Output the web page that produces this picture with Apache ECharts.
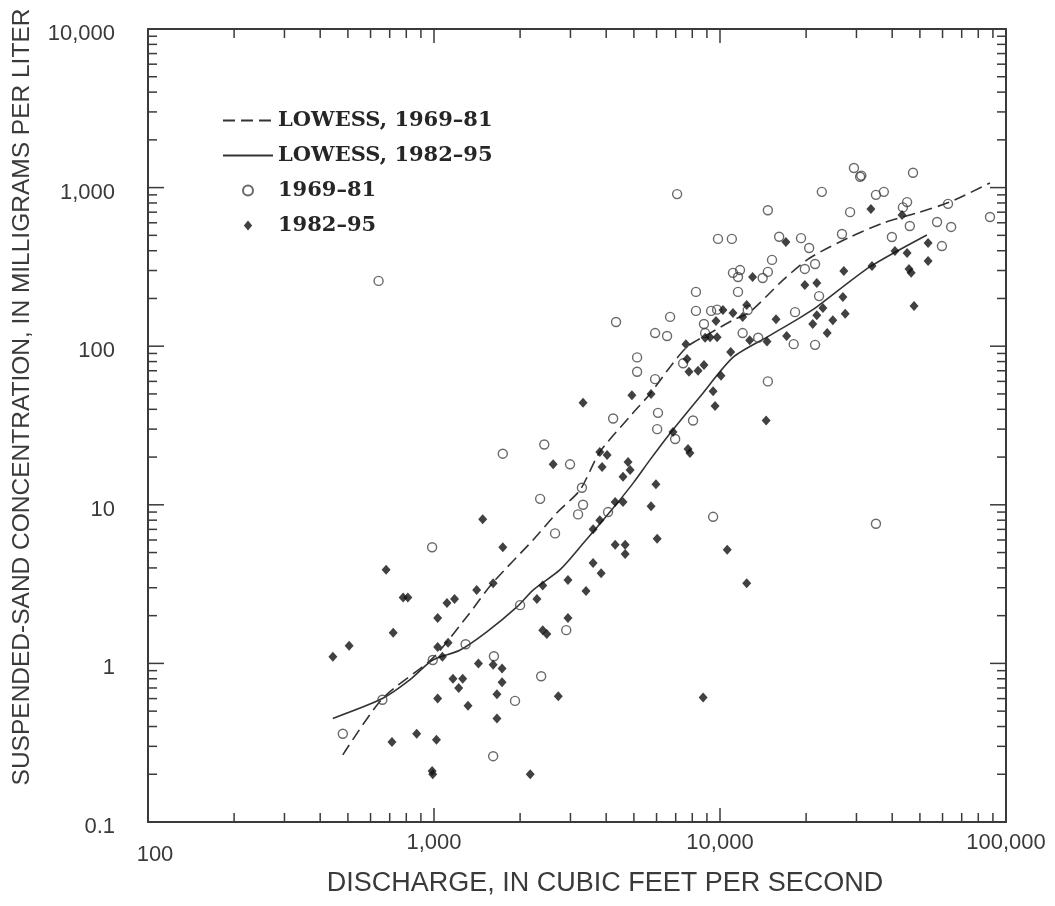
<!DOCTYPE html>
<html><head><meta charset="utf-8">
<script src="https://cdn.jsdelivr.net/npm/echarts@6/dist/echarts.min.js"></script>
<style>html,body{margin:0;padding:0;background:#fff}#c{width:1055px;height:906px}</style>
</head><body><div id="c"></div><script>
// ---- axis ranges and ticks ----
const X_MIN = 100, X_MAX = 100000;
const Y_MIN = 0.1, Y_MAX = 10000;
const xMajorTicks = [1000,10000];
const yMajorTicks = [1,10,100,1000];
const xMinorTicks = [200,300,400,500,600,700,800,900,2000,3000,4000,5000,6000,7000,8000,9000,20000,30000,40000,50000,60000,70000,80000,90000];
const yMinorTicks = [0.2,0.3,0.4,0.5,0.6,0.7,0.8,0.9,2,3,4,5,6,7,8,9,20,30,40,50,60,70,80,90,200,300,400,500,600,700,800,900,2000,3000,4000,5000,6000,7000,8000,9000];

// ---- data: [discharge (ft3/s), suspended-sand concentration (mg/L)] ----
const open1969_81 = [[480,0.36],[640,258],[660,0.59],[985,5.4],[990,1.05],[1290,1.32],[1610,0.26],[1620,1.11],[1740,21],[1920,0.58],[2000,2.33],[2370,0.83],[2350,10.9],[2430,24],[2650,6.6],[2900,1.62],[2990,18],[3190,8.7],[3290,12.8],[3320,10],[4060,9],[4230,35],[4330,142],[5130,85],[5130,69],[5930,62],[5930,121],[6530,116],[6690,153],[6070,38],[6030,30],[7080,910],[6970,26],[7430,78],[8050,34],[8240,220],[8240,167],[8790,138],[8870,121],[9310,167],[9460,8.4],[9770,170],[9840,475],[11000,475],[11100,290],[11560,273],[11750,302],[11560,220],[12000,121],[12500,169],[13600,113],[14100,269],[14700,294],[15200,350],[14700,720],[14700,60],[16100,490],[18300,164],[18100,103],[19200,480],[19800,307],[20500,416],[21500,330],[21500,102],[22200,207],[22700,940],[26700,510],[28500,700],[29400,1330],[30900,1170],[31200,1190],[35100,900],[37400,940],[35100,7.6],[39900,488],[43600,750],[45100,810],[46100,573],[47300,1240],[57400,607],[59700,428],[62700,790],[64300,565],[87900,653]];
const filled1982_95 = [[443,1.1],[505,1.29],[680,3.9],[720,1.56],[713,0.32],[780,2.6],[810,2.6],[870,0.36],[985,0.21],[990,0.2],[1020,0.33],[1030,1.93],[1030,1.27],[1070,1.1],[1120,1.35],[1110,2.4],[1180,2.55],[1165,0.8],[1260,0.8],[1220,0.7],[1030,0.6],[1315,0.54],[1410,2.9],[1480,8.1],[1610,3.2],[1430,1.0],[1610,0.98],[1730,0.93],[1730,0.76],[1660,0.64],[1660,0.45],[1740,5.4],[2170,0.2],[2290,2.55],[2400,3.1],[2400,1.62],[2480,1.53],[2720,0.62],[2940,3.36],[2940,1.93],[2610,18],[3400,2.86],[3600,4.3],[3840,3.7],[3600,7],[3800,8],[4300,10.4],[4580,10.4],[4300,5.6],[4660,5.6],[4660,4.9],[3320,44],[3800,21.5],[4030,20.6],[3870,17.3],[4770,18.6],[4850,16.6],[4580,15],[5740,9.8],[5970,13.5],[6030,6.1],[4920,49],[5740,50],[6850,28.8],[7730,22.5],[7850,21.2],[7600,103],[7670,83],[7790,69],[8380,70],[8790,76],[9230,114],[8870,113],[9770,114],[9680,144],[9460,52],[9610,42],[10080,65],[10900,92],[10600,5.2],[8730,0.61],[10240,169],[11100,162],[12000,153],[12400,182],[12700,109],[14600,107],[14500,34],[12400,3.2],[13000,273],[15700,148],[17100,116],[17000,454],[19800,243],[21800,250],[21800,157],[21100,138],[22900,174],[23700,121],[24800,146],[26900,204],[27400,160],[27100,298],[34000,320],[33700,733],[40900,398],[45100,387],[43300,672],[45800,307],[46600,290],[47700,179],[53400,447],[53400,345]];
const lowess1969_81 = [[480,0.265],[660,0.6],[990,1.08],[1300,1.96],[1600,3.2],[2220,6.0],[2690,8.9],[3240,12.4],[3800,21.5],[4970,38],[5690,50],[6690,74],[7670,99],[9230,121],[11100,146],[12700,164],[16600,261],[20600,360],[28500,488],[37200,598],[48800,692],[63700,811],[87900,1070]];
const lowess1982_95 = [[443,0.45],[660,0.6],[825,0.79],[990,1.05],[1230,1.21],[1530,1.58],[1950,2.27],[2220,2.9],[2760,3.9],[3320,5.7],[4120,9],[4970,13.7],[5690,19.2],[6530,26.7],[8510,48],[11100,85],[14600,114],[19000,151],[21800,177],[33400,316],[52900,503]];

const seriesNames = ['LOWESS, 1969\u201381','LOWESS, 1982\u201395','1969\u201381','1982\u201395'];

const INK = '#3a3a3a';
const SANS = '"Liberation Sans", Arial, sans-serif';

function fmt(v){
  const n = Number(Number(v).toPrecision(6));
  return String(n).replace(/\B(?=(\d{3})+(?!\d))/g, ',');
}

// frame ticks on all four sides, positioned through the axes' own scales
function tickSeries(vals, isX, L){
  return {
    type:'custom', silent:true, z:4, xAxisIndex:0, yAxisIndex:0,
    data: vals.map(v => isX ? [v, Y_MIN] : [X_MIN, v]),
    encode:{x:0, y:1},
    renderItem(params, api){
      const style = {stroke:INK, lineWidth:1.5};
      if (isX){
        const v = api.value(0);
        const a = api.coord([v, Y_MIN]), b = api.coord([v, Y_MAX]);
        return {type:'group', children:[
          {type:'line', shape:{x1:a[0],y1:a[1],x2:a[0],y2:a[1]-L}, style},
          {type:'line', shape:{x1:b[0],y1:b[1],x2:b[0],y2:b[1]+L}, style}
        ]};
      } else {
        const v = api.value(1);
        const a = api.coord([X_MIN, v]), b = api.coord([X_MAX, v]);
        return {type:'group', children:[
          {type:'line', shape:{x1:a[0],y1:a[1],x2:a[0]+L,y2:a[1]}, style},
          {type:'line', shape:{x1:b[0],y1:b[1],x2:b[0]-L,y2:b[1]}, style}
        ]};
      }
    }
  };
}

const axisLineStyle = {show:true, lineStyle:{color:INK, width:2}};
const chart = echarts.init(document.getElementById('c'), null, {renderer:'canvas'});
chart.setOption({
  animation:false,
  backgroundColor:'#fff',
  grid:{left:148, right:49, top:29, bottom:84, containLabel:false},
  legend:{
    data:[
      {name:seriesNames[0]},
      {name:seriesNames[1]},
      {name:seriesNames[2]},
      {name:seriesNames[3], icon:'path://M5,0 L10,6 L5,12 L0,6 Z'}
    ],
    orient:'vertical', left:222, top:110, padding:0,
    itemWidth:50, itemHeight:10, itemGap:14, symbolKeepAspect:true,
    textStyle:{fontFamily:'"DejaVu Serif", serif', fontSize:21, fontWeight:'bold', color:'#262626'}
  },
  xAxis:[
    {type:'log', logBase:10, min:X_MIN, max:X_MAX, position:'bottom',
     axisLine:axisLineStyle, splitLine:{show:false}, axisTick:{show:false},
     axisLabel:{margin:10, fontFamily:SANS, fontSize:22, color:INK,
       formatter:v => (Math.abs(v-100)<1e-6 ? '{shift|100}' : fmt(v)),
       rich:{shift:{padding:[12,0,0,14], fontFamily:SANS, fontSize:22, color:INK}}}},
    {type:'log', logBase:10, min:X_MIN, max:X_MAX, position:'top',
     axisLine:axisLineStyle, splitLine:{show:false}, axisLabel:{show:false}, axisTick:{show:false}}
  ],
  yAxis:[
    {type:'log', logBase:10, min:Y_MIN, max:Y_MAX, position:'left',
     axisLine:axisLineStyle, splitLine:{show:false}, axisTick:{show:false},
     axisLabel:{margin:33, fontFamily:SANS, fontSize:22, color:INK,
       formatter:v => '{d|' + fmt(v) + '}',
       rich:{d:{padding:[10,0,0,0], fontFamily:SANS, fontSize:22, color:INK}}}},
    {type:'log', logBase:10, min:Y_MIN, max:Y_MAX, position:'right',
     axisLine:axisLineStyle, splitLine:{show:false}, axisLabel:{show:false}, axisTick:{show:false}}
  ],
  graphic:[
    {type:'text', x:22, y:397, rotation:Math.PI/2,
     style:{text:'SUSPENDED-SAND CONCENTRATION, IN MILLIGRAMS PER LITER', fontFamily:SANS, fontSize:24.5, fill:INK, align:'center', verticalAlign:'middle'}},
    {type:'text', x:605, y:884,
     style:{text:'DISCHARGE, IN CUBIC FEET PER SECOND', fontFamily:SANS, fontSize:27, fill:INK, align:'center', verticalAlign:'middle'}}
  ],
  series:[
    {name:seriesNames[0], type:'line', data:lowess1969_81, symbol:'none', smooth:0.25, z:3,
     itemStyle:{color:'rgba(0,0,0,0)', borderWidth:0},
     lineStyle:{color:'#333', width:1.6, type:[12,6]}},
    {name:seriesNames[1], type:'line', data:lowess1982_95, symbol:'none', smooth:0.25, z:3,
     itemStyle:{color:'rgba(0,0,0,0)', borderWidth:0},
     lineStyle:{color:'#333', width:1.6}},
    {name:seriesNames[2], type:'scatter', data:open1969_81, symbol:'circle', symbolSize:9, z:5,
     itemStyle:{color:'rgba(255,255,255,0)', borderColor:'#444', borderWidth:1.4}},
    {name:seriesNames[3], type:'scatter', data:filled1982_95, symbol:'diamond', symbolSize:[9,10], z:6,
     itemStyle:{color:'#111'}},
    tickSeries(xMinorTicks, true, 9),
    tickSeries(yMinorTicks, false, 9),
    tickSeries(xMajorTicks, true, 14),
    tickSeries(yMajorTicks, false, 16)
  ]
});
</script></body></html>
